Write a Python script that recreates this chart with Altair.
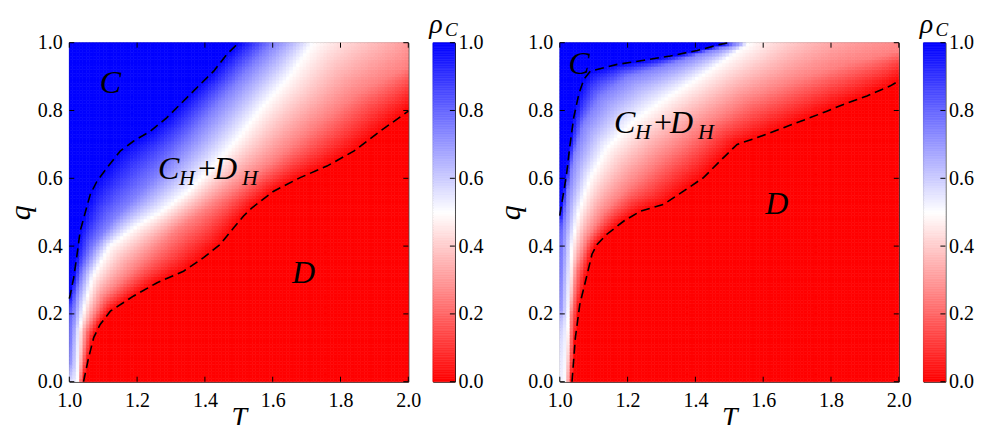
import numpy as np
import pandas as pd
import altair as alt

alt.data_transformers.disable_max_rows()

# ---------------- data ----------------
# Contour lines of rho_C (T, q) for levels 1, 0.75, 0.5, 0.25, 0 ; left panel
L1_T = [1.000, 1.003, 1.013, 1.023, 1.032, 1.048, 1.062, 1.082, 1.111, 1.150, 1.190, 1.239, 1.288, 1.337, 1.386, 1.426, 1.465, 1.500]
L1_q = [0.245, 0.258, 0.307, 0.376, 0.444, 0.503, 0.553, 0.592, 0.631, 0.680, 0.710, 0.739, 0.779, 0.828, 0.877, 0.916, 0.966, 1.000]
L75_T = [1.000, 1.008, 1.020, 1.040, 1.070, 1.130, 1.200, 1.280, 1.360, 1.440, 1.520, 1.600]
L75_q = [0.060, 0.150, 0.250, 0.330, 0.400, 0.480, 0.550, 0.630, 0.720, 0.820, 0.910, 1.000]
L50_T = [1.025, 1.030, 1.045, 1.070, 1.120, 1.200, 1.270, 1.350, 1.430, 1.500, 1.570, 1.650, 1.720]
L50_q = [0.000, 0.150, 0.220, 0.310, 0.400, 0.460, 0.500, 0.560, 0.640, 0.720, 0.810, 0.900, 1.000]
L25_T = [1.033, 1.050, 1.100, 1.210, 1.320, 1.460, 1.600, 1.720, 1.850, 2.000]
L25_q = [0.000, 0.150, 0.250, 0.350, 0.450, 0.550, 0.650, 0.750, 0.850, 0.930]
L0_T = [1.042, 1.057, 1.072, 1.091, 1.121, 1.190, 1.259, 1.337, 1.396, 1.445, 1.485, 1.514, 1.539, 1.603, 1.681, 1.760, 1.839, 1.917, 2.000]
L0_q = [0.000, 0.071, 0.130, 0.169, 0.208, 0.253, 0.292, 0.326, 0.366, 0.405, 0.454, 0.489, 0.513, 0.562, 0.602, 0.636, 0.680, 0.739, 0.798]

# right panel
R1_T = [1.000, 1.002, 1.007, 1.020, 1.029, 1.041, 1.056, 1.071, 1.090, 1.169, 1.248, 1.326, 1.405, 1.473, 1.500]
R1_q = [0.490, 0.503, 0.533, 0.612, 0.690, 0.779, 0.848, 0.892, 0.916, 0.936, 0.948, 0.961, 0.977, 0.995, 1.000]
R75_T = [1.000, 1.006, 1.012, 1.022, 1.040, 1.070, 1.120, 1.200, 1.300, 1.420, 1.530]
R75_q = [0.220, 0.350, 0.450, 0.550, 0.660, 0.760, 0.840, 0.900, 0.930, 0.970, 1.000]
R50_T = [1.020, 1.026, 1.036, 1.056, 1.090, 1.140, 1.220, 1.320, 1.430, 1.560]
R50_q = [0.000, 0.200, 0.400, 0.500, 0.600, 0.690, 0.770, 0.840, 0.910, 1.000]
R25_T = [1.027, 1.035, 1.050, 1.080, 1.130, 1.200, 1.300, 1.420, 1.550, 1.700, 1.850, 2.000]
R25_q = [0.000, 0.200, 0.330, 0.420, 0.500, 0.570, 0.660, 0.750, 0.830, 0.890, 0.940, 0.975]
R0_T = [1.036, 1.046, 1.059, 1.076, 1.095, 1.110, 1.139, 1.189, 1.238, 1.306, 1.365, 1.424, 1.483, 1.523, 1.582, 1.660, 1.739, 1.788, 1.837, 1.906, 1.974, 2.000]
R0_q = [0.000, 0.130, 0.228, 0.297, 0.376, 0.405, 0.435, 0.474, 0.503, 0.523, 0.562, 0.602, 0.661, 0.700, 0.720, 0.749, 0.779, 0.798, 0.818, 0.843, 0.872, 0.887]

LEVELS = [1.0, 0.75, 0.5, 0.25, 0.0]

# axis ticks
T_TICKS = [1.0, 1.2, 1.4, 1.6, 1.8, 2.0]
Q_TICKS = [0.0, 0.2, 0.4, 0.6, 0.8, 1.0]

# region label positions (T, q)
LEFT_LABELS = {"C": (1.121, 0.853), "CD": (1.262, 0.597), "D": (1.691, 0.292)}
RIGHT_LABELS = {"C": (1.057, 0.907), "CD": (1.160, 0.735), "D": (1.640, 0.494)}

N = 100
W = 339
H = 339
FONT = "Liberation Serif"


def build_field(contours):
    cen = (np.arange(N) + 0.5) / N
    U, V = np.meshgrid(cen, cen)
    Cg = (U + V).ravel()
    Dg = (U - V).ravel()
    ds = []
    for T, q in contours:
        u = np.asarray(T, float) - 1.0
        v = np.asarray(q, float)
        u = np.concatenate([[u[0] - 3], u, [u[-1] + 3]])
        v = np.concatenate([[v[0] - 3], v, [v[-1] + 3]])
        ds.append(np.interp(Cg, u + v, u - v))
    ds = np.maximum.accumulate(np.array(ds), axis=0)
    rho = np.array([np.interp(Dg[i], ds[:, i] + np.arange(5) * 1e-9, LEVELS) for i in range(Dg.size)])
    return pd.DataFrame({
        "T0": 1.0 + U.ravel() - 0.5 / N, "T1": 1.0 + U.ravel() + 0.5 / N,
        "q0": V.ravel() - 0.5 / N, "q1": V.ravel() + 0.5 / N, "rho": rho,
    })


xs = alt.Scale(domain=[1, 2], nice=False, zero=False)
ys = alt.Scale(domain=[0, 1], nice=False, zero=False)
cscale = alt.Scale(domain=[0, 0.5, 1], range=["#ff0000", "#ffffff", "#0000ff"], interpolate="rgb", clamp=True)

ax_common = dict(ticks=False, domain=False, grid=False, labelFont=FONT, labelFontSize=20,
                 labelColor="black", labelFlush=False, format=".1f",
                 titleFont=FONT, titleFontStyle="italic",
                 titleFontWeight="normal", titleColor="black")
xaxis = alt.Axis(values=T_TICKS, labelPadding=9, title="T", titlePadding=-7.3, titleFontSize=28, **ax_common)
yaxis = alt.Axis(values=Q_TICKS, labelPadding=7, title="q", titlePadding=2, titleFontSize=30, **ax_common)


def X(f):
    return alt.X(f, scale=xs, axis=xaxis)


def Y(f):
    return alt.Y(f, scale=ys, axis=yaxis)


def panel(contours, labels):
    df = build_field(contours)
    heat = alt.Chart(df).mark_rect(strokeWidth=0.6).encode(
        x=X("T0:Q"), x2="T1", y=Y("q0:Q"), y2="q1",
        color=alt.Color("rho:Q", scale=cscale, legend=None),
        stroke=alt.Stroke("rho:Q", scale=cscale, legend=None),
    )
    rows = []
    for name, idx in (("upper", 0), ("lower", 4)):
        T, q = contours[idx]
        for i, (a, b) in enumerate(zip(T, q)):
            rows.append({"line": name, "i": i, "T": a, "q": b})
    lines = alt.Chart(pd.DataFrame(rows)).mark_line(
        color="black", strokeWidth=1.6, strokeDash=[9, 5]
    ).encode(x=X("T:Q"), y=Y("q:Q"), detail="line:N", order="i:Q")

    tdf = pd.DataFrame({"t": T_TICKS})
    qdf = pd.DataFrame({"t": Q_TICKS})
    tick_style = dict(color="black", strokeWidth=1)
    ticks = [
        alt.Chart(tdf).mark_rule(**tick_style).encode(x=X("t:Q"), y=alt.value(0), y2=alt.value(5)),
        alt.Chart(tdf).mark_rule(**tick_style).encode(x=X("t:Q"), y=alt.value(H), y2=alt.value(H - 5)),
        alt.Chart(qdf).mark_rule(**tick_style).encode(y=Y("t:Q"), x=alt.value(0), x2=alt.value(5)),
        alt.Chart(qdf).mark_rule(**tick_style).encode(y=Y("t:Q"), x=alt.value(W), x2=alt.value(W - 5)),
    ]

    def txt(text, pos, size, style="italic", align="center", dx=0, dy=0):
        return alt.Chart(pd.DataFrame({"T": [pos[0]], "q": [pos[1]]})).mark_text(
            text=text, font=FONT, fontSize=size, fontStyle=style, color="black",
            align=align, baseline="alphabetic", dx=dx, dy=dy
        ).encode(x=X("T:Q"), y=Y("q:Q"))

    cd = labels["CD"]
    texts = [
        txt("C", labels["C"], 32),
        txt("D", labels["D"], 32),
        txt("C", cd, 32, align="left", dx=0),
        txt("H", cd, 22, align="left", dx=21, dy=6),
        txt("+", cd, 32, style="normal", align="left", dx=40),
        txt("D", cd, 32, align="left", dx=56),
        txt("H", cd, 22, align="left", dx=84, dy=6),
    ]
    return alt.layer(heat, lines, *ticks, *texts).properties(width=W, height=H)


def colorbar():
    lv = np.linspace(0, 1, 201)
    df = pd.DataFrame({"lo": lv[:-1], "hi": lv[1:], "rho": (lv[:-1] + lv[1:]) / 2})
    cax = alt.Axis(orient="right", values=Q_TICKS, format=".1f", ticks=False, domain=False, grid=False,
                   labelFont=FONT, labelFontSize=20, labelColor="black", labelFlush=False,
                   labelPadding=3, title=None)
    bar = alt.Chart(df).mark_rect(strokeWidth=0.6).encode(
        x=alt.value(0), x2=alt.value(22),
        y=alt.Y("lo:Q", scale=ys, axis=cax), y2="hi",
        color=alt.Color("rho:Q", scale=cscale, legend=None),
        stroke=alt.Stroke("rho:Q", scale=cscale, legend=None),
    )
    ticks = alt.Chart(pd.DataFrame({"t": Q_TICKS})).mark_rule(color="black").encode(
        y=alt.Y("t:Q", scale=ys, axis=cax), x=alt.value(17), x2=alt.value(22))
    tpos = pd.DataFrame({"y": [1.03]})
    rho_t = alt.Chart(tpos).mark_text(text="ρ", font=FONT, fontSize=28, fontStyle="italic",
                                      color="black", align="center", baseline="alphabetic").encode(
        x=alt.value(3), y=alt.Y("y:Q", scale=ys, axis=cax))
    c_t = alt.Chart(tpos).mark_text(text="C", font=FONT, fontSize=19, fontStyle="italic",
                                    color="black", align="left", baseline="alphabetic", dy=3).encode(
        x=alt.value(12), y=alt.Y("y:Q", scale=ys, axis=cax))
    return alt.layer(bar, ticks, rho_t, c_t).properties(width=22, height=H)


left = alt.hconcat(panel([(L1_T, L1_q), (L75_T, L75_q), (L50_T, L50_q), (L25_T, L25_q), (L0_T, L0_q)], LEFT_LABELS),
                   colorbar(), spacing=6.6)
right = alt.hconcat(panel([(R1_T, R1_q), (R75_T, R75_q), (R50_T, R50_q), (R25_T, R25_q), (R0_T, R0_q)], RIGHT_LABELS),
                    colorbar(), spacing=6.6)

chart = alt.hconcat(left, right, spacing=10.5).properties(
    padding={"left": -3.7, "top": 1.7, "right": 1, "bottom": -8.1}
).configure_view(stroke="black", strokeWidth=1)

chart.save("out.html", embed_options={"renderer": "svg", "actions": False})
